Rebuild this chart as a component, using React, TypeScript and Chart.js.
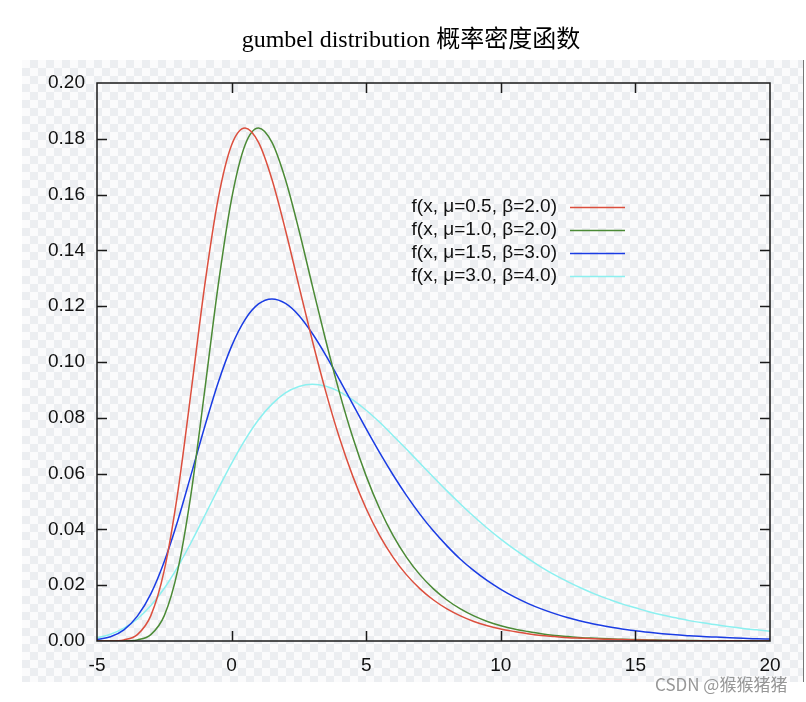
import React, { useEffect, useRef } from "react";
import { Chart, registerables } from "chart.js";

Chart.register(...registerables);

const TITLE = "gumbel distribution 概率密度函数";
const WATERMARK = "CSDN @猴猴猪猪";

const X_VALUES = [
  -5, -4.5, -4, -3.5, -3, -2.5, -2, -1.5, -1, -0.5,
  0, 0.5, 1, 1.5, 2, 2.5, 3, 3.5, 4, 4.5,
  5, 5.5, 6, 6.5, 7, 7.5, 8, 8.5, 9, 9.5,
  10, 10.5, 11, 11.5, 12, 12.5, 13, 13.5, 14, 14.5,
  15, 15.5, 16, 16.5, 17, 17.5, 18, 18.5, 19, 19.5, 20,
];

const SERIES_LABELS = [
  "f(x, μ=0.5, β=2.0)",
  "f(x, μ=1.0, β=2.0)",
  "f(x, μ=1.5, β=3.0)",
  "f(x, μ=3.0, β=4.0)",
];

const MU05_B2 = [
  0.0, 0.0, 0.0004, 0.0023, 0.0091, 0.0254, 0.0532, 0.0897, 0.1274, 0.1585,
  0.1778, 0.1839, 0.1787, 0.1654, 0.1473, 0.1273, 0.1076, 0.0893, 0.073, 0.0591,
  0.0474, 0.0378, 0.03, 0.0237, 0.0187, 0.0147, 0.0115, 0.009, 0.007, 0.0055,
  0.0043, 0.0034, 0.0026, 0.002, 0.0016, 0.0012, 0.001, 0.0008, 0.0006, 0.0005,
  0.0004, 0.0003, 0.0002, 0.0002, 0.0001, 0.0001, 0.0001, 0.0001, 0.0, 0.0, 0.0,
];

const MU10_B2 = [
  0.0, 0.0, 0.0, 0.0004, 0.0023, 0.0091, 0.0254, 0.0532, 0.0897, 0.1274,
  0.1585, 0.1778, 0.1839, 0.1787, 0.1654, 0.1473, 0.1273, 0.1076, 0.0893, 0.073,
  0.0591, 0.0474, 0.0378, 0.03, 0.0237, 0.0187, 0.0147, 0.0115, 0.009, 0.007,
  0.0055, 0.0043, 0.0034, 0.0026, 0.002, 0.0016, 0.0012, 0.001, 0.0008, 0.0006,
  0.0005, 0.0004, 0.0003, 0.0002, 0.0002, 0.0001, 0.0001, 0.0001, 0.0001, 0.0, 0.0,
];

const MU15_B3 = [
  0.0005, 0.0015, 0.004, 0.0089, 0.0169, 0.0285, 0.0431, 0.0598, 0.0768, 0.0926,
  0.1057, 0.1152, 0.1208, 0.1226, 0.121, 0.1167, 0.1102, 0.1024, 0.0938, 0.0849,
  0.076, 0.0675, 0.0595, 0.0521, 0.0454, 0.0394, 0.0341, 0.0293, 0.0252, 0.0216,
  0.0185, 0.0158, 0.0135, 0.0115, 0.0098, 0.0083, 0.0071, 0.006, 0.0051, 0.0043,
  0.0037, 0.0031, 0.0026, 0.0022, 0.0019, 0.0016, 0.0014, 0.0012, 0.001, 0.0008, 0.0007,
];

const MU30_B4 = [
  0.0011, 0.0024, 0.0046, 0.0079, 0.0127, 0.0189, 0.0266, 0.0354, 0.0449, 0.0545,
  0.0637, 0.0721, 0.0793, 0.0849, 0.0889, 0.0912, 0.092, 0.0913, 0.0894, 0.0864,
  0.0827, 0.0784, 0.0736, 0.0687, 0.0637, 0.0587, 0.0538, 0.0491, 0.0446, 0.0404,
  0.0365, 0.0329, 0.0296, 0.0265, 0.0237, 0.0212, 0.0189, 0.0168, 0.015, 0.0133,
  0.0119, 0.0105, 0.0093, 0.0083, 0.0073, 0.0065, 0.0058, 0.0051, 0.0045, 0.004, 0.0035,
];

const SERIES = [MU05_B2, MU10_B2, MU15_B3, MU30_B4];
const COLORS = ["#dc4f3e", "#4b8a36", "#1a3ce4", "#8cf0f0"];

const X_MIN = -5;
const X_MAX = 20;
const X_STEP = 5;
const Y_MIN = 0;
const Y_MAX = 0.2;
const Y_STEP = 0.02;

const SANS = '"Liberation Sans", Arial, "DejaVu Sans", sans-serif';

const framePlugin = {
  id: "frameAndExtras",
  afterDatasetsDraw(chart: any) {
    const { ctx, chartArea } = chart;
    const { left, right, top, bottom } = chartArea;
    const xs = chart.scales.x;
    const ys = chart.scales.y;
    ctx.save();
    ctx.strokeStyle = "#1a1a1a";
    ctx.lineWidth = 1.5;
    ctx.strokeRect(left, top, right - left, bottom - top);
    const tl = 10;
    ctx.beginPath();
    ys.ticks.forEach((t: any) => {
      const y = Math.round(ys.getPixelForValue(t.value)) + 0.5;
      if (t.value <= Y_MIN + 1e-9 || t.value >= Y_MAX - 1e-9) return;
      ctx.moveTo(left, y);
      ctx.lineTo(left + tl, y);
      ctx.moveTo(right, y);
      ctx.lineTo(right - tl, y);
    });
    xs.ticks.forEach((t: any) => {
      const x = Math.round(xs.getPixelForValue(t.value)) + 0.5;
      if (t.value <= X_MIN || t.value >= X_MAX) return;
      ctx.moveTo(x, bottom);
      ctx.lineTo(x, bottom - tl);
      ctx.moveTo(x, top);
      ctx.lineTo(x, top + tl);
    });
    ctx.stroke();

    // legend
    ctx.font = `19px ${SANS}`;
    ctx.textAlign = "right";
    ctx.textBaseline = "middle";
    const rowY = [207, 230, 253, 276];
    SERIES_LABELS.forEach((lab, i) => {
      const y = rowY[i];
      ctx.fillStyle = "#111";
      ctx.fillText(lab, 557, y);
      ctx.strokeStyle = COLORS[i];
      ctx.lineWidth = 1.5;
      ctx.beginPath();
      ctx.moveTo(570, y + 0.5);
      ctx.lineTo(625, y + 0.5);
      ctx.stroke();
    });

    // title
    ctx.font = '24px "Liberation Serif", "Times New Roman", "Noto Sans CJK SC", serif';
    ctx.textAlign = "center";
    ctx.textBaseline = "alphabetic";
    ctx.fillStyle = "#000";
    ctx.fillText(TITLE, 411, 47);
    ctx.restore();
  },
};

export default function App() {
  const ref = useRef<HTMLCanvasElement | null>(null);

  useEffect(() => {
    if (!ref.current) return;
    const chart = new Chart(ref.current, {
      type: "line",
      data: {
        datasets: SERIES.map((vals, i) => ({
          label: SERIES_LABELS[i],
          data: X_VALUES.map((x, j) => ({ x, y: vals[j] })),
          borderColor: COLORS[i],
          backgroundColor: COLORS[i],
          borderWidth: 1.5,
          pointRadius: 0,
          fill: false,
          cubicInterpolationMode: "monotone" as const,
        })),
      },
      options: {
        animation: false,
        responsive: false,
        maintainAspectRatio: false,
        events: [],
        layout: { padding: { left: 0, top: 83, right: 36, bottom: 0 } },
        plugins: {
          legend: { display: false },
          title: { display: false },
          tooltip: { enabled: false },
        },
        scales: {
          x: {
            type: "linear",
            min: X_MIN,
            max: X_MAX,
            grid: { display: false, drawTicks: false },
            border: { display: false },
            ticks: {
              stepSize: X_STEP,
              color: "#111",
              font: { family: SANS, size: 19 },
              padding: 13,
              maxRotation: 0,
              autoSkip: false,
            },
            afterFit: (s: any) => {
              s.height = 61;
            },
          },
          y: {
            type: "linear",
            min: Y_MIN,
            max: Y_MAX,
            grid: { display: false, drawTicks: false },
            border: { display: false },
            ticks: {
              stepSize: Y_STEP,
              color: "#111",
              font: { family: SANS, size: 19 },
              padding: 12,
              callback: (v: any) => Number(v).toFixed(2),
            },
            afterFit: (s: any) => {
              s.width = 97;
            },
          },
        },
      },
      plugins: [framePlugin],
    });
    return () => chart.destroy();
  }, []);

  return (
    <div
      style={{
        position: "fixed",
        left: 0,
        top: 0,
        width: 806,
        height: 702,
        background: "#fff",
        overflow: "hidden",
      }}
    >
      <div
        style={{
          position: "absolute",
          left: 22,
          top: 60,
          width: 782,
          height: 622,
          backgroundColor: "#fbfbfc",
          backgroundImage:
            "repeating-conic-gradient(#eceef1 0 25%, #fbfbfc 0 50%)",
          backgroundSize: "16px 16px",
        }}
      />
      <div
        style={{
          position: "absolute",
          left: 803,
          top: 60,
          width: 1,
          height: 622,
          background: "#777",
        }}
      />
      <canvas
        ref={ref}
        width={806}
        height={702}
        style={{ position: "absolute", left: 0, top: 0, width: 806, height: 702 }}
      />
      <div
        style={{
          position: "absolute",
          left: 655,
          top: 673,
          fontFamily: '"Noto Sans CJK SC", "Noto Sans", sans-serif',
          fontSize: 17,
          lineHeight: "22px",
          color: "rgba(140,140,140,0.9)",
          whiteSpace: "nowrap",
        }}
      >
        {WATERMARK}
      </div>
    </div>
  );
}
